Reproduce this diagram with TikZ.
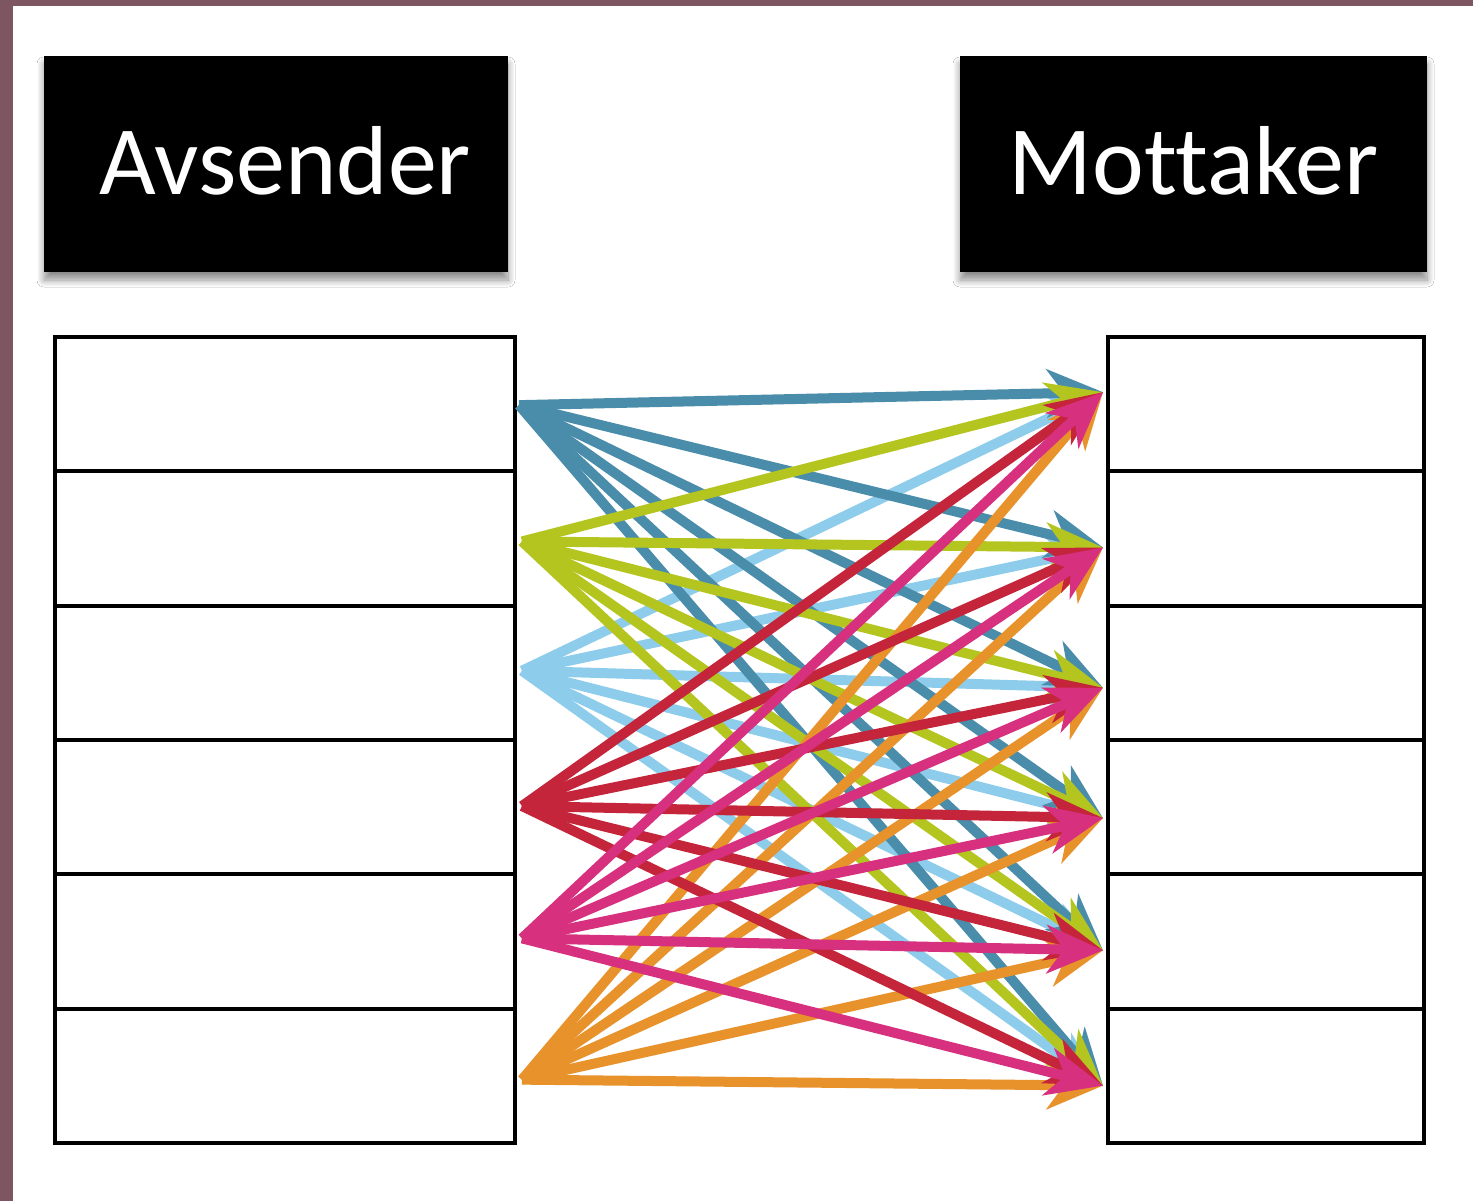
\documentclass[tikz,border=0pt]{standalone}
\usepackage{fontspec}
\setmainfont{Carlito}[Ligatures=NoCommon]
\usetikzlibrary{arrows.meta,shadows.blur,calc}
\definecolor{framec}{HTML}{7D5661}
\definecolor{cA}{HTML}{4A8DAB}
\definecolor{cB}{HTML}{B5C520}
\definecolor{cC}{HTML}{8DCDEB}
\definecolor{cD}{HTML}{C4253B}
\definecolor{cE}{HTML}{D6307E}
\definecolor{cF}{HTML}{E8922B}
\tikzset{
  header/.style={fill=black, text=white, minimum width=464pt, minimum height=216pt,
    inner sep=0pt, font=\fontsize{98}{100}\selectfont,
    blur shadow={shadow xshift=0pt, shadow yshift=-8pt, shadow blur radius=7pt, shadow blur steps=12, shadow opacity=45}},
  cell/.style={draw=black, line width=4pt, fill=white, inner sep=0pt, minimum height=134.3pt},
  link/.style={line width=10pt, -{Stealth[length=56pt,width=48pt,inset=17pt]}}
}
\begin{document}
\begin{tikzpicture}[x=1pt,y=-1pt]
\useasboundingbox (0,0) rectangle (1473,1201);
\fill[white] (0,0) rectangle (1473,1201);
\fill[framec] (0,0) rectangle (1473,6);
\fill[framec] (0,0) rectangle (13,1201);
% headers
\node[header] (hs) at (276,164) {\raisebox{8pt}{\hspace*{18pt}Avsender}};
\node[header, minimum width=467pt] (hr) at (1193.5,164) {\raisebox{8pt}{Mottaker}};
% tables
\foreach \i in {1,...,6}{
  \node[cell, minimum width=460pt] (L\i) at (285, {337+134.3*(\i-0.5)}) {};
  \node[cell, minimum width=316pt] (R\i) at (1266, {337+134.3*(\i-0.5)}) {};
}
% sources and targets
\coordinate (s1) at ($(L1.east)+(2,1)$);
\coordinate (s2) at ($(L2.east)+(5,3)$);
\coordinate (s3) at ($(L3.east)+(5,-2)$);
\coordinate (s4) at ($(L4.east)+(5,-1)$);
\coordinate (s5) at ($(L5.east)+(5,-3)$);
\coordinate (s6) at ($(L6.east)+(5,4)$);
\coordinate (t1) at ($(R1.west)+(-3,-12)$);
\coordinate (t2) at ($(R2.west)+(-3,9)$);
\coordinate (t3) at ($(R3.west)+(-3,15)$);
\coordinate (t4) at ($(R4.west)+(-3,11)$);
\coordinate (t5) at ($(R5.west)+(-3,9)$);
\coordinate (t6) at ($(R6.west)+(-3,10)$);
% arrows
\foreach \s/\c in {3/cC,1/cA,2/cB,6/cF,4/cD,5/cE}{
  \foreach \t in {1,...,6}{
    \draw[link, draw=\c, fill=\c] (s\s) -- (t\t);
  }
}
\end{tikzpicture}
\end{document}
